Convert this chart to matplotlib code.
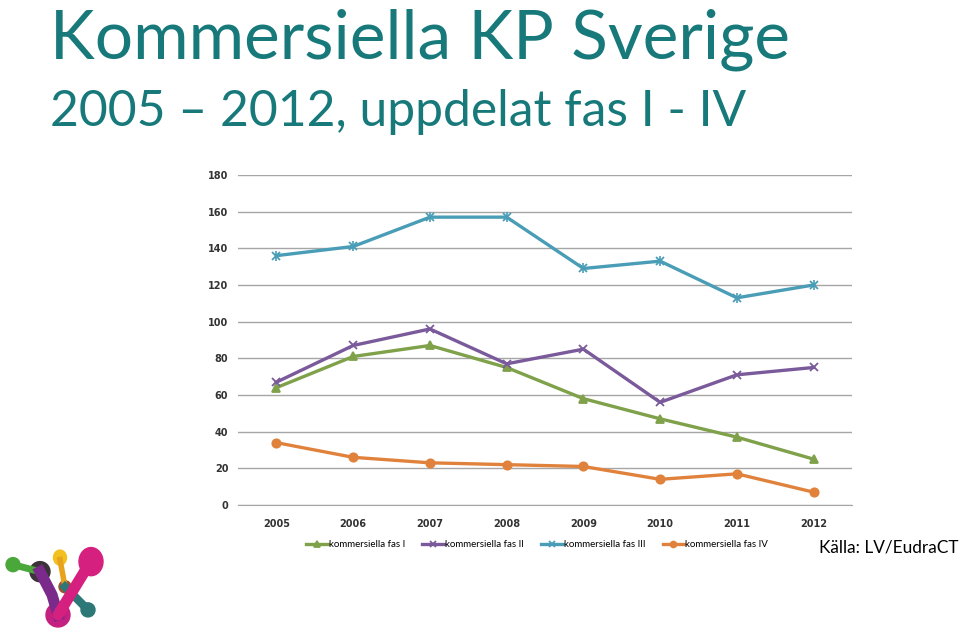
import matplotlib.pyplot as plt
from matplotlib.patches import Circle, Ellipse

years = ['2005', '2006', '2007', '2008', '2009', '2010', '2011', '2012']
fas_1 = [64, 81, 87, 75, 58, 47, 37, 25]
fas_2 = [67, 87, 96, 77, 85, 56, 71, 75]
fas_3 = [136, 141, 157, 157, 129, 133, 113, 120]
fas_4 = [34, 26, 23, 22, 21, 14, 17, 7]
labels = ['kommersiella fas I', 'kommersiella fas II',
          'kommersiella fas III', 'kommersiella fas IV']
yticks = [0, 20, 40, 60, 80, 100, 120, 140, 160, 180]

teal = '#17797a'

fig = plt.figure(figsize=(9.6, 6.31), dpi=100)
fig.patch.set_facecolor('white')

fig.text(0.052, 0.907, 'Kommersiella KP Sverige', color=teal,
         fontsize=48.7, family='Lato', va='baseline')
fig.text(0.052, 0.800, '2005 \u2013 2012, uppdelat fas I - IV', color=teal,
         fontsize=35.8, family='Lato', va='baseline')

ax = fig.add_axes([0.248, 0.1997, 0.6395, 0.523])
x = range(len(years))
styles = [
    (fas_1, '#7fa14a', '^', 6),
    (fas_2, '#7a5a9b', 'x', 6),
    (fas_3, '#4a9db6', 'x', 6),
    (fas_4, '#e0823c', 'o', 6),
]
for (vals, col, mk, ms), lab in zip(styles, labels):
    ax.plot(x, vals, color=col, lw=2.4, marker=mk, ms=ms, mew=1.3,
            mfc=col, mec=col, label=lab, zorder=3)
# asterisk look for fas III
ax.plot(x, fas_3, ls='none', marker='|', ms=7, mew=1.2, color='#4a9db6',
        zorder=4)

ax.set_xlim(-0.5, 7.5)
ax.set_ylim(0, 180)
ax.set_yticks(yticks)
ax.set_xticks(list(x))
ax.set_xticklabels(years)
ax.grid(axis='y', color='#a6a6a6', lw=1)
ax.set_axisbelow(True)
for s in ax.spines.values():
    s.set_visible(False)
ax.spines['bottom'].set_visible(True)
ax.spines['bottom'].set_color('#a6a6a6')
ax.tick_params(length=0, labelsize=7, labelcolor='#333333')
ax.tick_params(axis='x', pad=10)
ax.tick_params(axis='y', pad=7)
for t in ax.get_xticklabels() + ax.get_yticklabels():
    t.set_fontweight('bold')

ax.legend(loc='upper center', bbox_to_anchor=(0.487, -0.08), ncol=4,
          frameon=False, prop={'family': 'Lato', 'size': 7},
          handlelength=2.2, columnspacing=1.8, handletextpad=0.1,
          markerscale=0.7)

fig.text(0.998, 0.132, 'K\u00e4lla: LV/EudraCT', ha='right', va='center',
         fontsize=12.4, family='Lato', color='black')

# logo
logo = fig.add_axes([0.0, 0.0, 0.125, 0.145])
logo.set_xlim(0, 120)
logo.set_ylim(91, 0)
logo.axis('off')
logo.plot([13, 40], [25, 32], color='#4aa83a', lw=5, solid_capstyle='round')
logo.plot([60, 65], [20, 47], color='#e8a31c', lw=4)
logo.plot([65, 88], [47, 70], color='#2e7777', lw=6)
logo.plot([40, 52, 58], [32, 55, 75], color='#7a2a8a', lw=8)
logo.plot([58, 90], [75, 23], color='#d6207f', lw=8, solid_capstyle='round')
logo.add_patch(Circle((13, 25), 7, color='#4aa83a'))
logo.add_patch(Ellipse((60, 18), 13, 15, color='#f3c021'))
logo.add_patch(Circle((88, 70), 7, color='#2e7777'))
logo.add_patch(Ellipse((91, 22), 24, 28, color='#d6207f'))
logo.add_patch(Circle((58, 75), 12, color='#c5207f'))
logo.add_patch(Circle((40, 32), 10, color='#3b3338'))
logo.add_patch(Circle((65, 47), 6, color='#a0522d'))

fig.savefig('out.png', dpi=100)
